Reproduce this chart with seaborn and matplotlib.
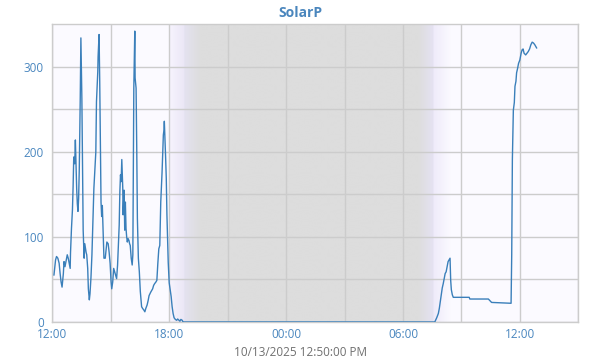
import numpy as np
import pandas as pd
import matplotlib
matplotlib.use("Agg")
import matplotlib.pyplot as plt
import matplotlib.dates as mdates
from matplotlib.colors import to_rgb
import seaborn as sns

# ---------------- data ----------------
start_time = "2025-10-12 12:00"
minutes = [5, 7, 10, 13, 17, 21, 24, 27, 30, 34, 36, 39, 42, 46, 49, 52, 55, 56, 59, 62,
           64, 66, 69, 71, 73, 75, 77, 79, 81, 83, 86, 88, 90, 91, 93, 95, 98, 100, 104, 106,
           109, 111, 114, 116, 119, 122, 125, 128, 131, 134, 136, 140, 141, 144, 146, 148, 150, 152, 154, 157,
           159, 163, 166, 168, 172, 175, 178, 181, 183, 186, 189, 192, 195, 198, 201, 204, 206, 208, 210, 212,
           214, 217, 218, 221, 223, 225, 227, 229, 231, 233, 236, 238, 240, 243, 246, 248, 249, 251, 254, 255,
           258, 260, 262, 265, 268, 271, 275, 278, 282, 285, 288, 292, 295, 298, 303, 306, 309, 312, 315, 319,
           322, 325, 328, 331, 334, 338, 340, 342, 344, 345, 347, 349, 351, 353, 355, 357, 360, 363, 366, 369,
           372, 375, 379, 383, 386, 390, 393, 396, 400, 403, 1175, 1178, 1184, 1189, 1192, 1195, 1198, 1201, 1204, 1207,
           1210, 1213, 1216, 1219, 1222, 1225, 1227, 1229, 1232, 1235, 1284, 1286, 1343, 1348, 1353, 1413, 1415, 1417, 1420, 1423,
           1425, 1428, 1430, 1433, 1436, 1440, 1444, 1447, 1450, 1453, 1458, 1462, 1466, 1470, 1474, 1478, 1482, 1486, 1492]
solar_p = [55, 62, 73, 77, 75, 69, 57, 47, 41, 57, 71, 65, 71, 79, 75, 69, 63, 81, 110, 132,
           159, 194, 186, 214, 186, 157, 139, 130, 145, 179, 263, 334, 287, 263, 188, 108, 75, 92, 82, 79,
           63, 39, 26, 33, 52, 79, 118, 157, 179, 200, 259, 294, 312, 338, 283, 212, 141, 124, 137, 102,
           75, 75, 86, 94, 92, 82, 69, 47, 39, 47, 63, 59, 55, 51, 67, 94, 114, 153, 173, 165,
           191, 157, 126, 155, 108, 141, 110, 100, 94, 98, 96, 92, 90, 75, 67, 79, 141, 275, 342, 287,
           275, 205, 122, 75, 59, 36, 18, 16, 14, 12, 16, 20, 25, 31, 35, 37, 39, 43, 45, 47,
           49, 69, 86, 90, 141, 176, 199, 220, 226, 236, 216, 193, 169, 126, 100, 70, 46, 38, 30, 18,
           10, 5, 3, 2, 3.5, 2, 1, 3, 2, 0, 0, 0, 5, 10, 16, 24, 32, 40, 45, 51,
           57, 59, 65, 71, 73, 75, 49, 38, 32, 29, 29, 27, 27, 25, 23, 22, 79, 191, 249, 258,
           277, 283, 293, 298, 304, 308, 316, 320, 321, 316, 314, 316, 318, 321, 326, 329, 328, 326, 322]
x_start = "2025-10-12 12:00"
x_end = "2025-10-13 15:00"
y_max = 350
y_major = [0, 100, 200, 300]
title = "SolarP"
caption = "10/13/2025 12:50:00 PM"

# night / twilight shading (hours after start) and colours
shade_hours = [6.0, 6.77, 6.78, 7.6, 18.8, 19.55, 19.58, 20.45]
shade_colors = ["#f7f4fe", "#ebe7f6", "#e4e2f0", "#dddddd", "#dddddd", "#e5e2f2", "#efebfa", "#fbfaff"]

df = pd.DataFrame({
    "time": pd.Timestamp(start_time) + pd.to_timedelta(minutes, unit="min"),
    "SolarP": solar_p,
})

# ---------------- style ----------------
sns.set_theme(style="white")
plt.rcParams["font.family"] = ["Open Sans", "DejaVu Sans"]

tick_color = "#4a87bf"
grid_color = "#cccccc"
bg_color = "#fbfaff"
line_color = "#3a7fba"

fig = plt.figure(figsize=(6, 3.6), dpi=100)
ax = fig.add_axes([0.0872, 0.1056, 0.8766, 0.8269])
ax.set_facecolor(bg_color)

# shading gradient
t0 = pd.Timestamp(start_time)
hh = np.linspace(shade_hours[0], shade_hours[-1], 800)
rgb = np.array([to_rgb(c) for c in shade_colors])
img = np.stack([np.interp(hh, shade_hours, rgb[:, k]) for k in range(3)], axis=-1)[None, :, :]
xs0 = mdates.date2num(t0 + pd.Timedelta(hours=shade_hours[0]))
xs1 = mdates.date2num(t0 + pd.Timedelta(hours=shade_hours[-1]))
ax.imshow(img, extent=[xs0, xs1, 0, y_max], aspect="auto", zorder=0, interpolation="bilinear")

sns.lineplot(data=df, x="time", y="SolarP", ax=ax, color=line_color, linewidth=1.0, zorder=3)

ax.set_xlim(pd.Timestamp(x_start), pd.Timestamp(x_end))
ax.set_ylim(0, y_max)
ax.set_yticks(y_major)
ax.set_yticks([50, 150, 250], minor=True)
ax.xaxis.set_major_locator(mdates.HourLocator(byhour=[0, 6, 12, 18]))
ax.xaxis.set_minor_locator(mdates.HourLocator(byhour=[3, 9, 15, 21]))
ax.xaxis.set_major_formatter(mdates.DateFormatter("%H:%M"))

ax.grid(True, which="both", color=grid_color, linewidth=1.0, zorder=1)
ax.set_axisbelow(False)
for ln in ax.get_xgridlines() + ax.get_ygridlines():
    ln.set_zorder(1)
for sp in ax.spines.values():
    sp.set_visible(True)
    sp.set_color(grid_color)
    sp.set_linewidth(1.0)

ax.tick_params(axis="both", which="both", length=0, labelsize=8.5, colors=tick_color)
ax.tick_params(axis="x", pad=4)
ax.tick_params(axis="y", pad=6)
ax.set_xlabel("")
ax.set_ylabel("")

fig.text(0.5, 0.965, title, ha="center", va="center", fontsize=10, fontweight="bold", color="#4a86bd")
fig.text(0.5, 0.022, caption, ha="center", va="center", fontsize=8.5, color="#707070")

fig.savefig("out.png", dpi=100, facecolor="white")
